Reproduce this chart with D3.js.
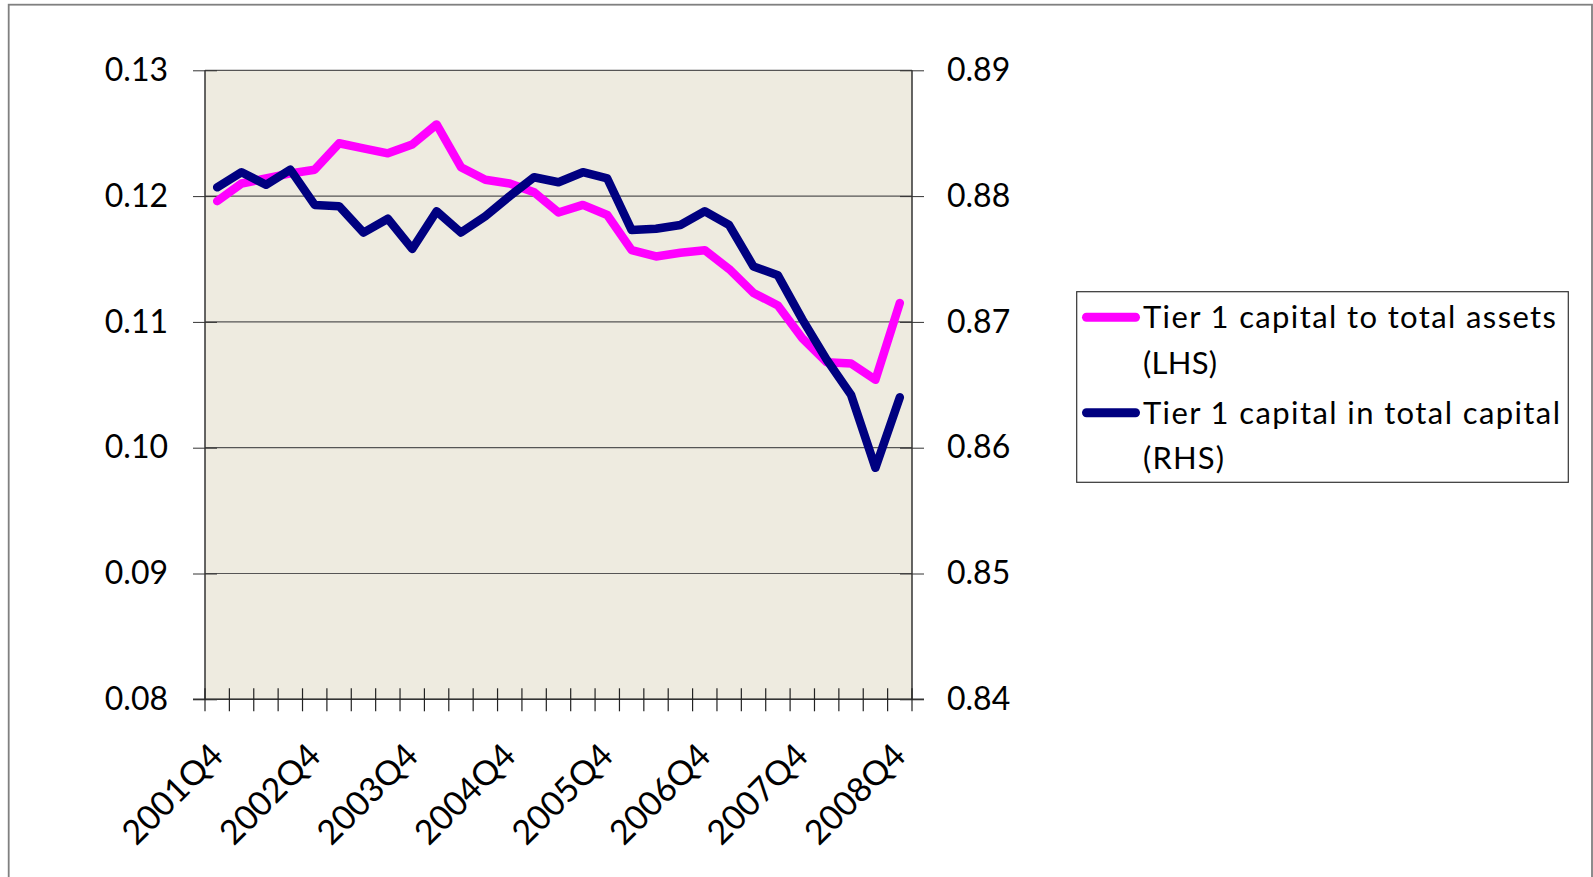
<!DOCTYPE html>
<html><head><meta charset="utf-8">
<script src="https://cdn.jsdelivr.net/npm/d3@7"></script>
<style>body{margin:0;background:#fff;} text{font-family:Lato, "Open Sans", sans-serif;}</style>
</head><body>
<svg id="c" width="1593" height="877"></svg>
<script>
const categories = (function(){const a=[];a.push("2001Q4");for(let y=2002;y<=2008;y++){for(let q=1;q<=4;q++)a.push(y+"Q"+q);}return a;})();
const tier1Assets = [0.1196,0.1210,0.1214,0.1218,0.1221,0.1242,0.1238,0.1234,0.1241,0.1257,0.1223,0.1213,0.1210,0.1203,0.1187,0.1193,0.1185,0.1157,0.1152,0.1155,0.1157,0.1142,0.1123,0.1113,0.1087,0.1068,0.1067,0.1054,0.1115];
const tier1Capital = [0.8807,0.8819,0.8809,0.8821,0.8793,0.8792,0.8771,0.8782,0.8758,0.8788,0.8771,0.8784,0.8800,0.8815,0.8811,0.8819,0.8814,0.8773,0.8774,0.8777,0.8788,0.8777,0.8744,0.8737,0.8702,0.8670,0.8642,0.8584,0.8640];
const leftTicks = [0.08,0.09,0.10,0.11,0.12,0.13];
const rightTicks = [0.84,0.85,0.86,0.87,0.88,0.89];
const seriesNames = [["Tier 1 capital to total assets","(LHS)"],["Tier 1 capital in total capital","(RHS)"]];
const colors = ["#FF00FF","#000080"];

const svg = d3.select("#c");
const L=205, R=912, T=70.3, B=699.3;
svg.append("rect").attr("x",8.7).attr("y",4.7).attr("width",1583.3).attr("height",900).attr("fill","none").attr("stroke","#808080").attr("stroke-width",1.8);

const x = d3.scaleBand().domain(categories).range([L,R]).padding(0);
const yL = d3.scaleLinear().domain([0.08,0.13]).range([B,T]);
const yR = d3.scaleLinear().domain([0.84,0.89]).range([B,T]);

svg.append("rect").attr("x",L).attr("y",T).attr("width",R-L).attr("height",B-T).attr("fill","#EEEBE0");

// gridlines
svg.append("g").selectAll("line").data(leftTicks).join("line")
  .attr("x1",L).attr("x2",R).attr("y1",d=>yL(d)).attr("y2",d=>yL(d))
  .attr("stroke","#555").attr("stroke-width",1.2);

// left axis
const gl = svg.append("g").attr("transform",`translate(${L},0)`)
  .call(d3.axisLeft(yL).tickValues(leftTicks).tickFormat(d3.format(".2f")).tickSize(12).tickPadding(25));
gl.select(".domain").remove();
gl.append("line").attr("x1",0).attr("x2",0).attr("y1",T).attr("y2",B).attr("stroke","#333").attr("stroke-width",1.5);
gl.selectAll(".tick line").attr("x2",-12).attr("x1",12).attr("stroke","#333");
gl.selectAll("text").attr("font-size",32).attr("fill","#000").attr("font-family","Lato");

const gr = svg.append("g").attr("transform",`translate(${R},0)`)
  .call(d3.axisRight(yR).tickValues(rightTicks).tickFormat(d3.format(".2f")).tickSize(12).tickPadding(23));
gr.select(".domain").remove();
gr.append("line").attr("x1",0).attr("x2",0).attr("y1",T).attr("y2",B).attr("stroke","#333").attr("stroke-width",1.5);
gr.selectAll(".tick line").attr("x1",-12).attr("x2",12).attr("stroke","#333");
gr.selectAll("text").attr("font-size",32).attr("fill","#000").attr("font-family","Lato");

// x axis
const gx = svg.append("g").attr("transform",`translate(0,${B})`);
gx.append("line").attr("x1",L-12).attr("x2",R+12).attr("y1",0).attr("y2",0).attr("stroke","#333").attr("stroke-width",1.5);
const bounds = categories.map(c=>x(c)).concat([R]);
gx.selectAll("line.tk").data(bounds).join("line").attr("class","tk")
  .attr("x1",d=>d).attr("x2",d=>d).attr("y1",-11).attr("y2",12).attr("stroke","#222").attr("stroke-width",1.2);
const labelCats = categories.filter((c,i)=>i%4===0);
gx.selectAll("text").data(labelCats).join("text")
  .attr("transform",d=>`translate(${x(d)+x.bandwidth()/2+8},${58.6}) rotate(-45)`)
  .attr("text-anchor","end").attr("font-size",34).text(d=>d);

// lines
const lineL = d3.line().x((d,i)=>x(categories[i])+x.bandwidth()/2).y(d=>yL(d));
const lineR = d3.line().x((d,i)=>x(categories[i])+x.bandwidth()/2).y(d=>yR(d));
svg.append("path").datum(tier1Assets).attr("d",lineL).attr("fill","none").attr("stroke",colors[0]).attr("stroke-width",8.5).attr("stroke-linejoin","round").attr("stroke-linecap","round");
svg.append("path").datum(tier1Capital).attr("d",lineR).attr("fill","none").attr("stroke",colors[1]).attr("stroke-width",8.5).attr("stroke-linejoin","round").attr("stroke-linecap","round");

// legend
const lg = svg.append("g");
lg.append("rect").attr("x",1076.7).attr("y",291.7).attr("width",491.6).attr("height",190.6).attr("fill","#fff").attr("stroke","#333").attr("stroke-width",1.2);
const ly = [317.3,412.7];
const lb = [[328.3,374],[424,469.3]];
const lw = [[413,74],[417,81]];
seriesNames.forEach((nm,k)=>{
  lg.append("line").attr("x1",1086.5).attr("x2",1135.5).attr("y1",ly[k]).attr("y2",ly[k]).attr("stroke",colors[k]).attr("stroke-width",9).attr("stroke-linecap","round");
  lg.append("text").attr("x",1143).attr("y",lb[k][0]).attr("font-size",31).attr("font-family","Open Sans")
    .attr("textLength",lw[k][0]).attr("lengthAdjust","spacing").text(nm[0]);
  lg.append("text").attr("x",1143).attr("y",lb[k][1]).attr("font-size",31).attr("font-family","Open Sans")
    .attr("textLength",lw[k][1]).attr("lengthAdjust","spacing").text(nm[1]);
});
</script>
</body></html>
